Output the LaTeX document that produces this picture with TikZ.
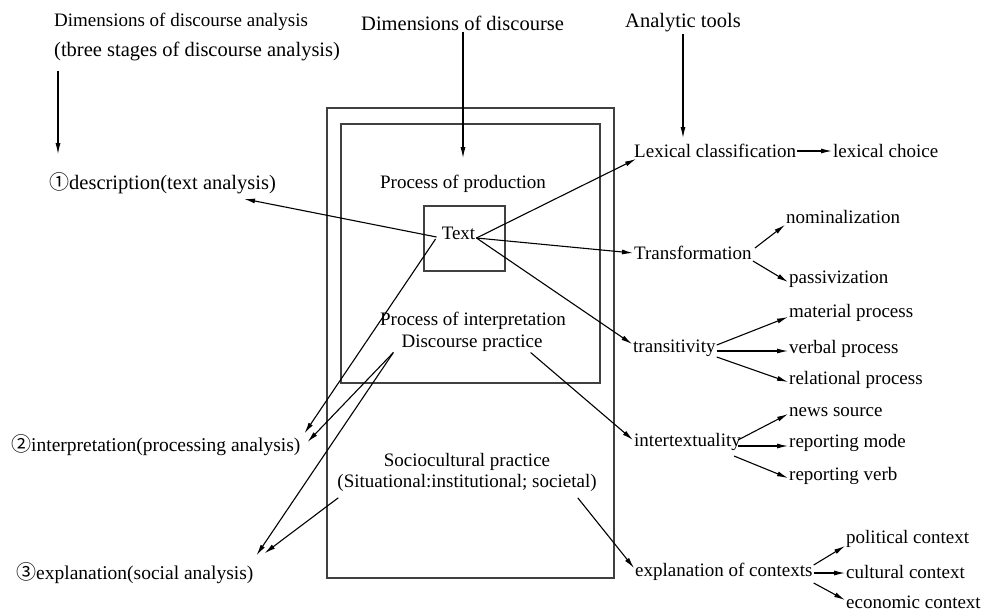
\documentclass[tikz,border=0pt]{standalone}
\usepackage{fontspec}
\setmainfont{Liberation Serif}
\newfontfamily\circfont{Noto Sans CJK SC}
\newcommand{\circd}[1]{{\circfont\fontsize{20}{20}\selectfont #1}}
\usetikzlibrary{arrows.meta,calc}
\begin{document}
\begin{tikzpicture}[x=1pt,y=-1pt,
  lbl/.style={inner sep=1pt, anchor=west, font=\fontsize{19}{23}\selectfont},
  lblb/.style={inner sep=1pt, anchor=west, font=\fontsize{19.5}{23}\selectfont},
  hdr/.style={inner sep=1pt, anchor=west, font=\fontsize{20.5}{24}\selectfont},
  ctr/.style={inner sep=1pt, font=\fontsize{19}{23}\selectfont},
  arr/.style={-{Latex[length=11pt,width=5pt]}, line width=1.1pt},
  frame/.style={draw=black!75, line width=1.6pt, inner sep=0pt}
]
\useasboundingbox[fill=white] (0,0) rectangle (984,611);

% frames
\node[frame, minimum width=287pt, minimum height=470pt] (outer) at (470.5,343) {};
\node[frame, minimum width=259pt, minimum height=259pt] (inner) at (470.5,253.5) {};
\node[frame, minimum width=81pt, minimum height=65pt] (tbox) at (464.5,238.5) {};

% headers
\node[lbl] (hdrA) at (53,22) {Dimensions of discourse analysis};
\node[hdr] (hdrB) at (53,51) {(tbree stages of discourse analysis)};
\node[hdr] (hdrC) at (360,23) {Dimensions of discourse};
\node[hdr] (hdrD) at (624,23) {Analytic tools};

% left column
\node[hdr] (desc) at (48,183) {\circd{①}description(text analysis)};
\node[lblb] (interp) at (10,445) {\circd{②}interpretation(processing analysis)};
\node[lblb] (expl) at (15,573) {\circd{③}explanation(social analysis)};

% centre
\node[ctr] (txt) at (458.5,233) {Text};
\node[ctr] (pp) at (463,184) {Process of production};
\node[ctr] (pi) at (473,321) {Process of interpretation};
\node[ctr] (dp) at (472,343) {Discourse practice};
\node[ctr] (sc) at (467,462) {Sociocultural practice};
\node[ctr] (sc2) at (467,483) {(Situational:institutional; societal)};

% right column
\node[lbl] (lex) at (633,151) {Lexical classification};
\node[lbl] (choice) at (832,151) {lexical choice};
\node[lbl] (trans) at (633,253) {Transformation};
\node[lbl] (nom) at (785,217) {nominalization};
\node[lbl] (pass) at (788,279) {passivization};
\node[lbl] (transit) at (632,348) {transitivity};
\node[lbl] (mat) at (788,313) {material process};
\node[lbl] (verb) at (788,349) {verbal process};
\node[lbl] (rel) at (788,380) {relational process};
\node[lbl] (inter) at (633,442) {intertextuality};
\node[lbl] (news) at (788,412) {news source};
\node[lbl] (mode) at (788,443) {reporting mode};
\node[lbl] (rverb) at (788,476) {reporting verb};
\node[lbl] (ectx) at (634,572) {explanation of contexts};
\node[lbl] (pol) at (845,539) {political context};
\node[lbl] (cult) at (845,572) {cultural context};
\node[lbl] (econ) at (845,602) {economic context};

% header arrows
\draw[arr] ([xshift=5pt,yshift=-9pt]hdrB.south west) -- ([xshift=10pt,yshift=17pt]desc.north west);
\draw[arr] (hdrC.south -| pp.north) -- ([yshift=16pt]pp.north);
\draw[arr] (hdrD.south) -- ($(hdrD.south |- lex.north)+(0,-5)$);

% from Text
\draw[arr] ([xshift=-4pt,yshift=-4pt]txt.west) -- ([xshift=-33pt,yshift=-4pt]desc.south east);
\draw[arr] ([xshift=-5pt,yshift=-6pt]txt.west) -- ([xshift=3pt]interp.north east);
\draw[arr] ([yshift=-5pt]txt.east) -- ([xshift=3pt]lex.south west);
\draw[arr] ([yshift=-5pt]txt.east) -- (trans.west);
\draw[arr] ([yshift=-5pt]txt.east) -- ([yshift=4pt]transit.west);

% from Discourse practice
\draw[arr] ([xshift=-7pt]dp.south west) -- ([xshift=6pt,yshift=3pt]interp.east);
\draw[arr] ([xshift=-7pt]dp.south west) -- ([xshift=2pt,yshift=6pt]expl.north east);
\draw[arr] ([xshift=-13pt]dp.south east) -- ([yshift=2pt]inter.west);

% from Sociocultural practice
\draw[arr] ([xshift=2pt,yshift=-5pt]sc2.south west) -- ([xshift=10pt,yshift=8pt]expl.north east);
\draw[arr] ([xshift=-20pt,yshift=-5pt]sc2.south east) -- ([yshift=4pt]ectx.west);

% analytic tools
\draw[arr] (lex.east) -- (choice.west);
\draw[arr] ([xshift=2pt,yshift=-3pt]trans.north east) -- (nom.south west);
\draw[arr] (trans.south east) -- ([yshift=-3pt]pass.west);
\draw[arr] ([yshift=3pt]transit.east) -- ([yshift=-4pt]mat.west);
\draw[arr] ([yshift=-3pt]transit.east) -- ([yshift=-2pt]verb.west);
\draw[arr] ([yshift=-9pt]transit.east) -- ([yshift=-2pt]rel.west);
\draw[arr] ([xshift=-4pt,yshift=2pt]inter.east) -- ([yshift=-2pt]news.west);
\draw[arr] ([xshift=-4pt,yshift=-4pt]inter.east) -- ([yshift=-3pt]mode.west);
\draw[arr] ([xshift=-8pt,yshift=-14pt]inter.east) -- ([yshift=-2pt]rverb.west);
\draw[arr] ([yshift=7pt]ectx.east) -- ([yshift=-7pt]pol.west);
\draw[arr] ([yshift=-1pt]ectx.east) -- ([yshift=-1pt]cult.west);
\draw[arr] ([yshift=-11pt]ectx.east) -- ([yshift=2pt]econ.west);
\end{tikzpicture}
\end{document}
